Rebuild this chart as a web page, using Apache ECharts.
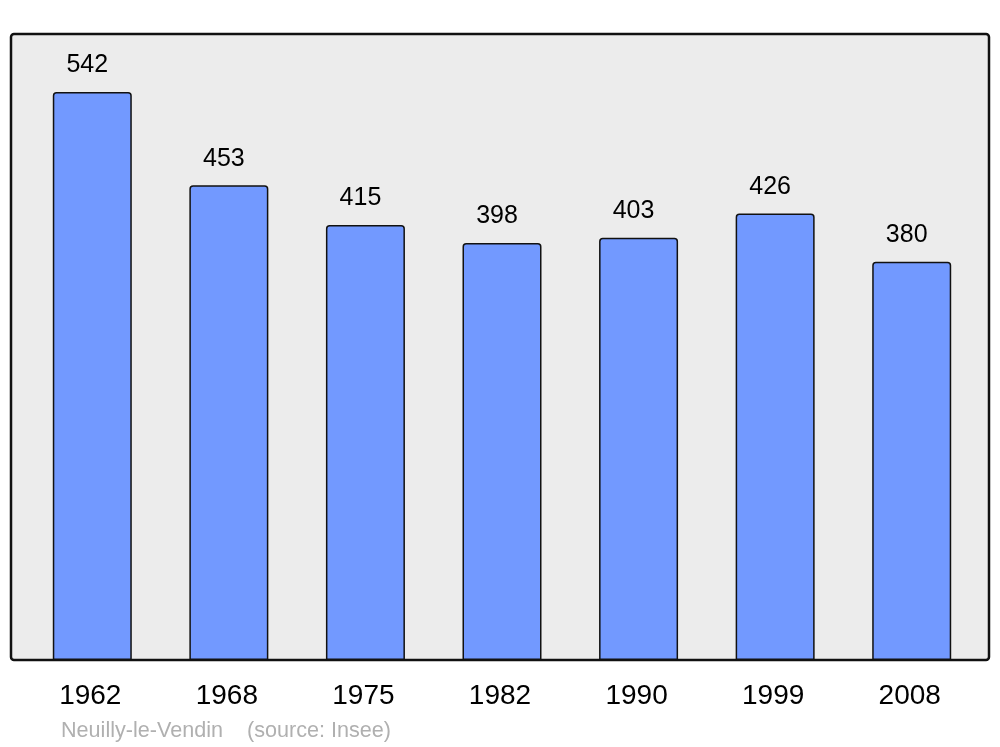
<!DOCTYPE html>
<html><head><meta charset="utf-8">
<script src="https://cdn.jsdelivr.net/npm/echarts@6/dist/echarts.min.js"></script>
<style>html,body{margin:0;padding:0;background:#fff}#c{width:1000px;height:747px}</style>
</head><body><div id="c"></div>
<script>
const years = ['1962','1968','1975','1982','1990','1999','2008'];
const population = [542, 453, 415, 398, 403, 426, 380];
const footerPlace = 'Neuilly-le-Vendin';
const footerSource = '(source: Insee)';

const chart = echarts.init(document.getElementById('c'), null, {renderer:'canvas'});
chart.setOption({
  animation:false,
  graphic:[
    {type:'rect', z:-10, shape:{x:11,y:34,width:978,height:626,r:3}, style:{fill:'#ececec',stroke:'#111',lineWidth:2.5}},
    {type:'text', left:61, top:720, style:{text:footerPlace, fill:'#b0b0b0', font:'21.6px "Liberation Sans", Arial, sans-serif'}},
    {type:'text', left:247, top:720, style:{text:footerSource, fill:'#b0b0b0', font:'21.6px "Liberation Sans", Arial, sans-serif'}}
  ],
  grid:{left:24, right:20, top:34, bottom:87},
  xAxis:{type:'category', data:years, axisLine:{show:false}, axisTick:{show:false},
    axisLabel:{fontSize:28, color:'#000', fontFamily:'"Liberation Sans", Arial, sans-serif', margin:22, padding:[0,4,0,0]}},
  yAxis:{type:'value', min:0, max:597.3, show:false, splitLine:{show:false}},
  series:[{type:'bar', data:population, barWidth:79,
    itemStyle:{color:'#7299ff', borderColor:'#111', borderWidth:1.5, borderRadius:[3,3,0,0]},
    label:{show:true, position:'top', distance:14, offset:[-5,0], fontSize:25, color:'#000',
      fontFamily:'"Liberation Sans", Arial, sans-serif'}
  }]
});
</script></body></html>
